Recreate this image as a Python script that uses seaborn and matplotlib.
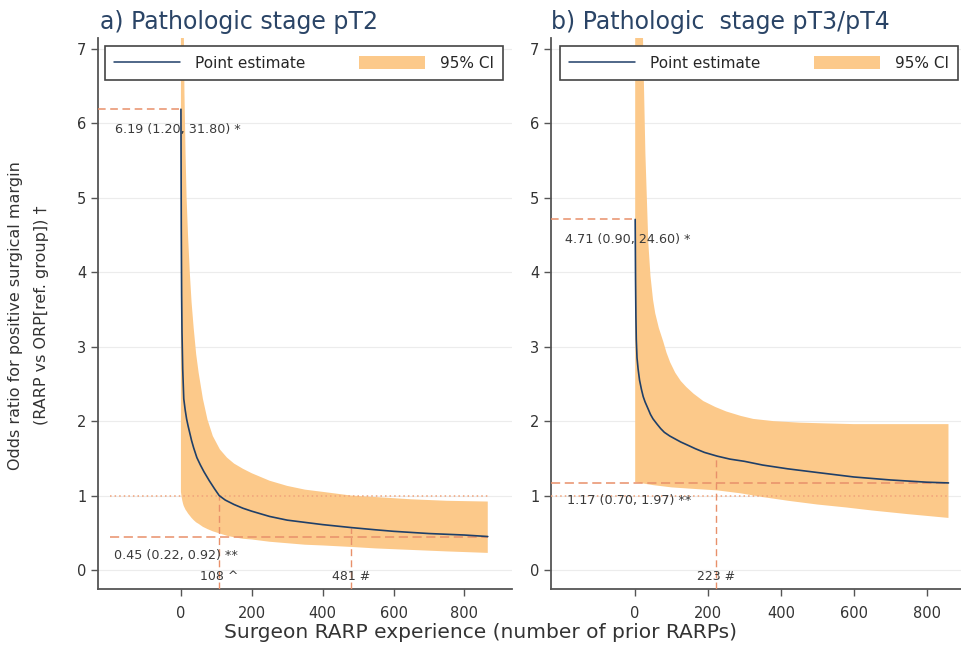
import numpy as np
import pandas as pd
import matplotlib
matplotlib.use("Agg")
import matplotlib.pyplot as plt
import seaborn as sns
from matplotlib.lines import Line2D
from matplotlib.patches import Patch

# --- panel a: pT2 ---
a_x = [0, 1, 2, 3, 5, 8, 12, 16, 20, 25, 30, 36, 45, 55, 65, 80, 95, 108, 125, 150, 175, 200,
       250, 300, 350, 400, 481, 550, 600, 700, 800, 866]
a_or = [6.19, 4.6, 3.7, 3.2, 2.7, 2.3, 2.15, 2.03, 1.94, 1.84, 1.74, 1.64, 1.51, 1.41, 1.32, 1.2,
        1.09, 1.0, 0.94, 0.88, 0.83, 0.79, 0.72, 0.67, 0.64, 0.61, 0.57, 0.54, 0.52, 0.49, 0.47, 0.45]
a_ci_x = [0, 2, 4, 6, 8, 10, 13, 16, 20, 25, 30, 36, 43, 50, 62, 75, 90, 110, 130, 150, 175, 200,
          250, 300, 350, 400, 481, 550, 650, 750, 866]
a_lo = [1.05, 0.98, 0.93, 0.89, 0.86, 0.84, 0.81, 0.79, 0.76, 0.73, 0.70, 0.67, 0.64, 0.62, 0.58,
        0.55, 0.52, 0.49, 0.46, 0.44, 0.42, 0.41, 0.38, 0.36, 0.34, 0.33, 0.31, 0.29, 0.27, 0.25, 0.23]
a_hi = [31.8, 18.0, 11.5, 8.8, 7.3, 6.4, 5.6, 5.0, 4.5, 4.0, 3.6, 3.25, 2.9, 2.65, 2.3, 2.02, 1.8,
        1.62, 1.51, 1.43, 1.36, 1.3, 1.2, 1.13, 1.08, 1.05, 1.0, 0.98, 0.95, 0.93, 0.92]

# --- panel b: pT3/pT4 ---
b_x = [0, 1, 2, 3, 5, 8, 12, 17, 22, 27, 35, 42, 49, 60, 70, 80, 95, 110, 125, 143, 165, 190,
       225, 260, 300, 350, 418, 500, 600, 700, 800, 860]
b_or = [4.71, 3.9, 3.4, 3.1, 2.85, 2.7, 2.55, 2.43, 2.33, 2.26, 2.17, 2.09, 2.03, 1.96, 1.9, 1.85,
        1.8, 1.76, 1.72, 1.68, 1.63, 1.58, 1.53, 1.49, 1.46, 1.41, 1.36, 1.31, 1.25, 1.21, 1.18, 1.17]
b_hi_x = [0, 5, 10, 15, 22, 28, 36, 42, 49, 55, 65, 77, 86, 96, 110, 125, 140, 160, 187, 220, 250,
          290, 324, 380, 450, 520, 600, 700, 860]
b_hi = [24.6, 16.0, 12.0, 9.0, 7.0, 5.6, 4.4, 3.95, 3.63, 3.45, 3.25, 3.07, 2.92, 2.79, 2.65, 2.54,
        2.46, 2.37, 2.27, 2.19, 2.13, 2.07, 2.03, 2.0, 1.98, 1.97, 1.96, 1.96, 1.96]
b_lo_x = [0, 50, 100, 160, 225, 290, 350, 420, 500, 580, 650, 750, 860]
b_lo = [1.18, 1.14, 1.11, 1.09, 1.07, 1.03, 0.98, 0.93, 0.88, 0.84, 0.80, 0.75, 0.70]

titles = ["a) Pathologic stage pT2", "b) Pathologic  stage pT3/pT4"]
start_labels = ["6.19 (1.20, 31.80) *", "4.71 (0.90, 24.60) *"]
end_labels = ["0.45 (0.22, 0.92) **", "1.17 (0.70, 1.97) **"]
start_vals = [6.19, 4.71]
end_vals = [0.45, 1.17]
marks_a = [(108, 1.0, "108 ^"), (481, 0.57, "481 #")]
marks_b = [(223, 1.53, "223 #")]

sns.set_style("white")
plt.rcParams['font.family'] = ['DejaVu Sans']

BAND = "#fcc98a"
LINE = "#1f3f68"
DASH = "#e8906a"
TXT = "#3a3a3a"

fig = plt.figure(figsize=(9.61, 6.57), dpi=100)
ax_a = fig.add_axes([0.102, 0.1035, 0.431, 0.839])
ax_b = fig.add_axes([0.5734, 0.1035, 0.431, 0.839])

panels = [
    (ax_a, a_x, a_or, a_ci_x, a_lo, a_ci_x, a_hi, (-234, 935), -200, 866, 870, marks_a),
    (ax_b, b_x, b_or, b_lo_x, b_lo, b_hi_x, b_hi, (-231, 906), -231, 860, 860, marks_b),
]

for i, (ax, px, po, lx, lo, hx, hi, xl, x0, xend, dot_end, marks) in enumerate(panels):
    # band: both limits on a shared grid of the read x positions
    grid = sorted(set(lx) | set(hx))
    lo_g = np.interp(grid, lx, lo)
    hi_g = np.interp(grid, hx, hi)
    ax.fill_between(grid, lo_g, hi_g, color=BAND, lw=0, zorder=1)

    df = pd.DataFrame({"x": px, "or": po})
    sns.lineplot(data=df, x="x", y="or", ax=ax, color=LINE, lw=1.2, zorder=4)

    for y in range(8):
        ax.axhline(y, color="#ececec", lw=0.8, zorder=0)

    ax.plot([xl[0], 0], [start_vals[i]] * 2, ls=(0, (5, 3)), color=DASH, lw=1.1, zorder=3)
    ax.plot([x0, xend], [end_vals[i]] * 2, ls=(0, (6, 3)), color=DASH, lw=1.1, zorder=3)
    ax.plot([x0, dot_end], [1, 1], ls=(0, (1, 2)), color="#f0a27a", lw=1.1, zorder=3)

    for mx, my, lab in marks:
        ax.plot([mx, mx], [-0.26, my], ls=(0, (5, 3)), color=DASH, lw=1.0, zorder=3)
        ax.text(mx, -0.09, lab, ha="center", va="center", fontsize=9, color=TXT, zorder=5)

    ax.text(xl[0] + (47 if i == 0 else 39), start_vals[i] - 0.27, start_labels[i],
            ha="left", va="center", fontsize=9.2, color=TXT, zorder=5)
    ax.text(x0 + (11 if i == 0 else 44), end_vals[i] - 0.25 if i == 0 else 0.94, end_labels[i],
            ha="left", va="center", fontsize=9.2, color=TXT, zorder=5)

    ax.set_xlim(*xl)
    ax.set_ylim(-0.255, 7.15)
    ax.set_xticks([0, 200, 400, 600, 800])
    ax.set_yticks(range(8))
    ax.tick_params(axis="both", direction="out", length=5, width=1, color="#555555",
                   labelsize=10.5, labelcolor="#333333", left=True, bottom=True)
    ax.tick_params(axis="x", pad=7)
    ax.set_xlabel("")
    ax.set_ylabel("")
    for s in ["top", "right"]:
        ax.spines[s].set_visible(False)
    for s in ["left", "bottom"]:
        ax.spines[s].set_color("#555555")
        ax.spines[s].set_linewidth(1.3)

    ax.set_title(titles[i], loc="left", fontsize=17, color="#2a4466",
                 x=0.005 if i == 0 else 0.0, y=1.0)

    handles = [Line2D([], [], color=LINE, lw=1.1), Patch(facecolor=BAND, edgecolor="none")]
    leg = ax.legend(handles, ["Point estimate", "95% CI"], ncol=2, mode="expand",
                    bbox_to_anchor=(0.017 if i == 0 else 0.022, 0.924, 0.961, 0.0635),
                    loc="lower left", frameon=True, fancybox=False, fontsize=11,
                    handlelength=4.3, handleheight=0.9, handletextpad=1.0, borderaxespad=0,
                    borderpad=0.6)
    leg.get_frame().set_edgecolor("#444444")
    leg.get_frame().set_linewidth(1.2)
    leg.get_frame().set_alpha(1)
    leg.set_zorder(10)

fig.text(0.016, 0.52, "Odds ratio for positive surgical margin", rotation=90,
         ha="center", va="center", fontsize=11.5, color="#333333")
fig.text(0.043, 0.52, "(RARP vs ORP[ref. group]) †", rotation=90,
         ha="center", va="center", fontsize=11.5, color="#333333")
fig.text(0.5, 0.038, "Surgeon RARP experience (number of prior RARPs)",
         ha="center", va="center", fontsize=14.5, color="#333333")

fig.savefig("out.png", dpi=100)
